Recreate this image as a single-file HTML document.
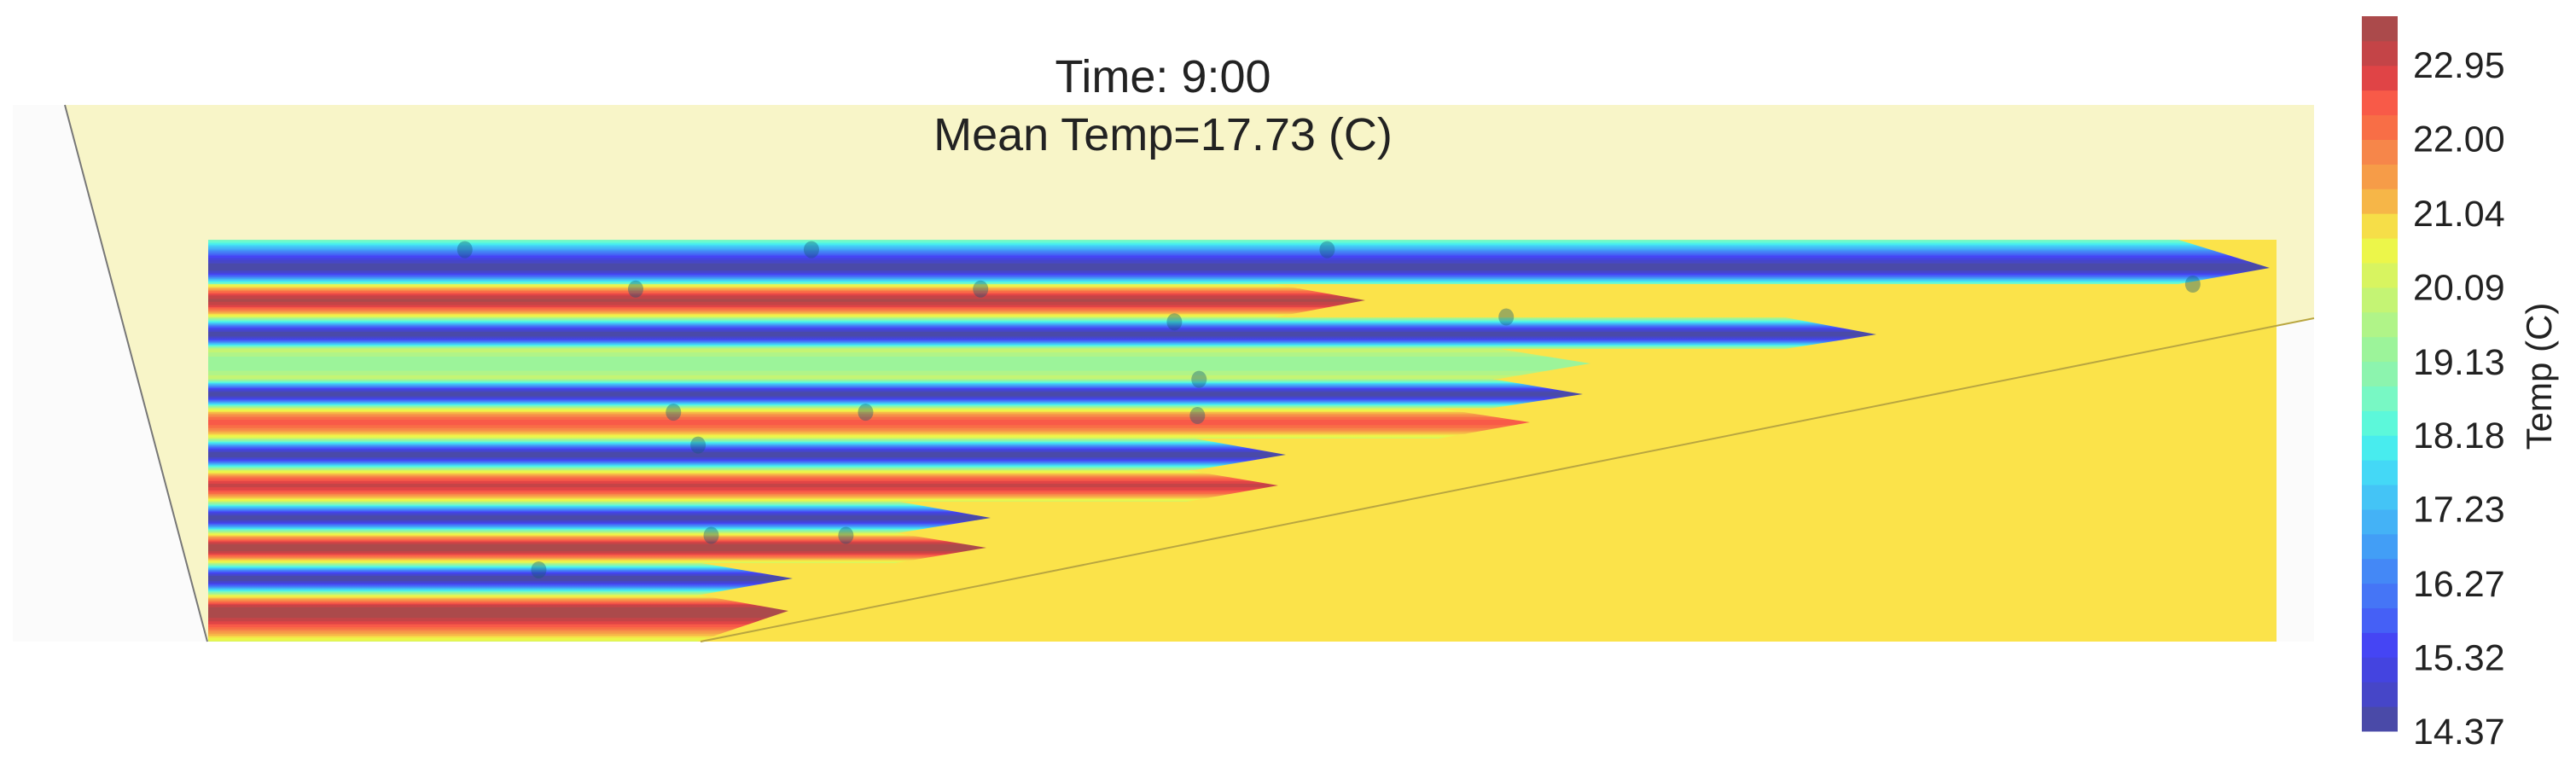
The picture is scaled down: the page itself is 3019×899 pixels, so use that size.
<!DOCTYPE html>
<html><head><meta charset="utf-8"><style>
html,body{margin:0;padding:0;background:#fff;}
svg{display:block;}
text{font-family:"Liberation Sans",sans-serif;fill:#222;}
</style></head><body>
<svg id="chart" width="3019" height="899" viewBox="0 0 3019 899">
<defs id="defs"></defs>
<rect x="15" y="123" width="2697" height="629" fill="#fbfbfb"/>
<polygon points="76,123 2712,123 2712,373 821,752 243,752" fill="#f8f5c8"/>
<rect x="244" y="281" width="2424" height="471" fill="#fbe34a"/>
<g id="rows"></g>
<line x1="76" y1="123" x2="243" y2="752" stroke="#777" stroke-width="2"/>
<line x1="2712" y1="373" x2="821" y2="752" stroke="#b9a640" stroke-width="2"/>
<g id="dots"></g>
<text x="1363" y="108" font-size="54" text-anchor="middle">Time: 9:00</text>
<text x="1363" y="176" font-size="54" text-anchor="middle">Mean Temp=17.73 (C)</text>
<g id="cbar"></g>
<text transform="translate(2990,441) rotate(-90)" font-size="42" text-anchor="middle">Temp (C)</text>
</svg>
<script>
// colorbar levels (bottom -> top)
const levelColors = ["#4a4aa8","#4646c8","#4444e0","#4545f4","#4560f6","#4575f6","#4488f6","#429ef6","#44b2f6","#44c4f6","#44d8f6","#48ecee","#5cf8da","#78f8c4","#8cf4ae","#9cf49a","#b0f488","#c4f474","#d8f460","#ecf64a","#f6de48","#f6b648","#f69c48","#f6864a","#f86e46","#f85a48","#e04446","#c44447","#ab4a4b"];
const tickLabels = ["14.37","15.32","16.27","17.23","18.18","19.13","20.09","21.04","22.00","22.95"];
const tMin = 14.37, tStep = 0.3175;
// rows: center y, center temp, edge temp, tip x
const rowCenters = [314,352,392,426,462,495,533,569,607,642,678,716];
const rowCenterTemps = [14.5,23.3,14.5,19.2,14.5,22.4,14.5,23.0,14.5,23.5,14.5,23.5];
const rowEdgeTemps = [18.8,20.2,19.8,20.0,19.8,20.2,19.8,20.2,19.8,20.2,19.8,20.3];
const rowTipX = [2660,1600,2199,1864,1855,1793,1507,1498,1161,1156,929,924];
const dotX = [283,494,808,387,597,715,917,1335,730,410,527,729,425,433,515,328];
const dotY = [152,152,152,176,176,196,193,173,231,251,251,253,271,326,326,347];

const NS="http://www.w3.org/2000/svg";
const defs=document.getElementById('defs');
function colorOf(t){let i=Math.floor((t-tMin)/tStep);i=Math.max(0,Math.min(levelColors.length-1,i));return levelColors[i];}
const cbTop=19,cbBot=857,cbX=2768,cbW=42;
const bandH=(cbBot-cbTop)/levelColors.length;
function yCb(t){return cbBot-(t-tMin)/tStep*bandH;}
const cb=document.getElementById('cbar');
levelColors.forEach((c,i)=>{
  const r=document.createElementNS(NS,'rect');
  
  
  r.setAttribute('x',cbX);r.setAttribute('y',cbBot-(i+1)*bandH);
  r.setAttribute('width',cbW);r.setAttribute('height',bandH+0.5);r.setAttribute('fill',c);
  cb.appendChild(r);
});
tickLabels.forEach(l=>{
  const t=document.createElementNS(NS,'text');
  
  
  t.setAttribute('x',2828);t.setAttribute('y',yCb(parseFloat(l))+15);
  t.setAttribute('font-size','43');t.textContent=l;
  cb.appendChild(t);
});
const rowsG=document.getElementById('rows');
const plotTop=281,plotBot=752,plotLeft=244;
rowCenters.forEach((cy,i)=>{
  const top=i===0?plotTop:(rowCenters[i-1]+cy)/2;
  const bot=i===rowCenters.length-1?plotBot:(cy+rowCenters[i+1])/2;
  const g=document.createElementNS(NS,'linearGradient');
  const gid='g'+i;g.setAttribute('id',gid);
  g.setAttribute('x1','0');g.setAttribute('y1','0');g.setAttribute('x2','0');g.setAttribute('y2','1');
  const N=80;
  for(let k=0;k<=N;k++){
    const yy=top+(bot-top)*k/N;
    const half=yy<cy?(cy-top):(bot-cy);
    const d=Math.min(1,Math.abs(yy-cy)/half);
    const f=Math.pow((Math.cos(Math.PI*d)+1)/2,0.6);
    const T=rowEdgeTemps[i]+(rowCenterTemps[i]-rowEdgeTemps[i])*f;
    const s=document.createElementNS(NS,'stop');
    s.setAttribute('offset',(k/N).toFixed(4));s.setAttribute('stop-color',colorOf(T));
    g.appendChild(s);
  }
  defs.appendChild(g);
  const flat=rowTipX[i]-107;
  const p=document.createElementNS(NS,'polygon');
  
  
  p.setAttribute('points',`${plotLeft},${top} ${flat},${top} ${rowTipX[i]},${cy} ${flat},${bot} ${plotLeft},${bot}`);
  p.setAttribute('fill',`url(#${gid})`);
  rowsG.appendChild(p);
});
const dotsG=document.getElementById('dots');
dotX.forEach((x,i)=>{
  const c=document.createElementNS(NS,'ellipse');
  
  
  c.setAttribute('cx',x*1.925);c.setAttribute('cy',dotY[i]*1.925);
  c.setAttribute('rx',9);c.setAttribute('ry',10);
  c.setAttribute('fill','rgba(20,90,120,0.4)');
  dotsG.appendChild(c);
});
</script>
</body></html>
